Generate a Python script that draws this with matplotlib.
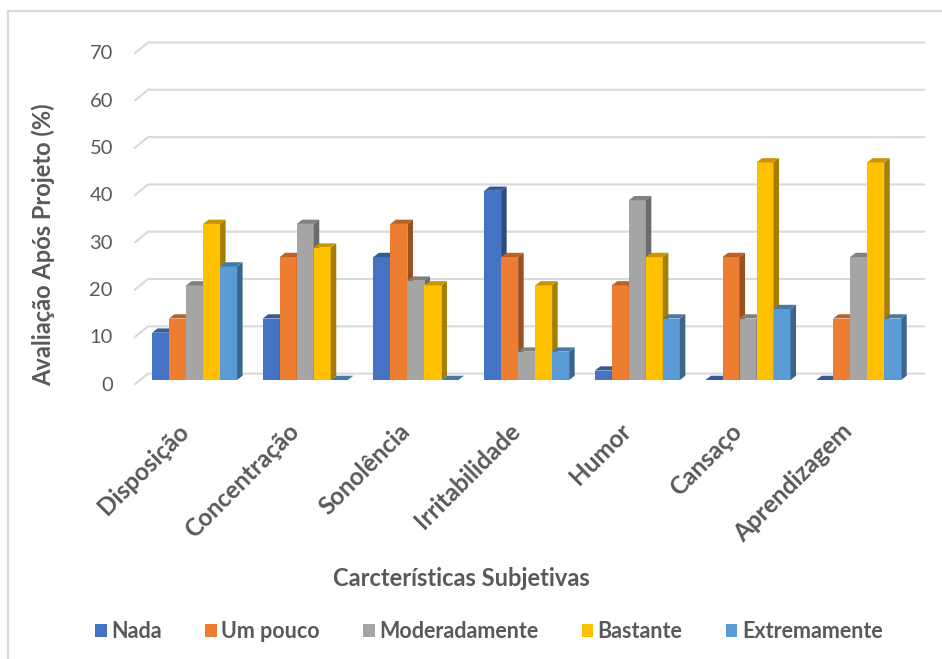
# Avaliação após o projeto - barras agrupadas com efeito 3D
import numpy as np
import matplotlib.pyplot as plt
from matplotlib.patches import Polygon, Patch
from matplotlib.colors import to_rgb

plt.rcParams['font.family'] = ['Lato', 'DejaVu Sans']

# dados
categorias = ['Disposição', 'Concentração', 'Sonolência', 'Irritabilidade',
              'Humor', 'Cansaço', 'Aprendizagem']
series = ['Nada', 'Um pouco', 'Moderadamente', 'Bastante', 'Extremamente']
nada = [10, 13, 26, 40, 2, 0, 0]
um_pouco = [13, 26, 33, 26, 20, 26, 13]
moderadamente = [20, 33, 21, 6, 38, 13, 26]
bastante = [33, 28, 20, 20, 26, 46, 46]
extremamente = [24, 0, 0, 6, 13, 15, 13]
y_ticks = [0, 10, 20, 30, 40, 50, 60, 70]

valores = [nada, um_pouco, moderadamente, bastante, extremamente]
cores = ['#4472C4', '#ED7D31', '#A5A5A5', '#FFC000', '#5B9BD5']
cinza = '#595959'


def escurecer(c, f):
    r, g, b = to_rgb(c)
    return (r * f, g * f, b * f)


fig = plt.figure(figsize=(9.42, 6.59), dpi=100)
ax = fig.add_axes([134 / 942, 264 / 659, (925 - 134) / 942, (395 - 30) / 659])
ax.set_xlim(-0.547, 6.599)
ax.set_ylim(-3.17, 74.0)
ax.axis('off')

# profundidade do efeito 3D (unidades de dados)
dx, dy = 0.05, 0.9
larg = 0.1536
x = np.arange(len(categorias))

# grade no fundo com o canto inclinado à esquerda
for v in y_ticks:
    ax.plot([-0.547, -0.42, 6.599], [v - 1.06, v + 1.35, v + 1.35],
            color='#D9D9D9', lw=1.5, zorder=0, solid_capstyle='butt')
    ax.text(-0.547 - 0.19, v - 1.06, str(v), ha='right', va='center',
            fontsize=14.5, color=cinza)

for j, (vals, cor) in enumerate(zip(valores, cores)):
    for i, v in enumerate(vals):
        x0 = x[i] - 2.5 * larg + j * larg
        z = 2 + j
        ax.bar(x0, v, larg, align='edge', color=cor, zorder=z, lw=0)
        lado = [(x0 + larg, 0), (x0 + larg + dx, dy),
                (x0 + larg + dx, v + dy), (x0 + larg, v)]
        topo = [(x0, v), (x0 + dx, v + dy), (x0 + larg + dx, v + dy),
                (x0 + larg, v)]
        ax.add_patch(Polygon(lado, closed=True, color=escurecer(cor, 0.65),
                             lw=0, zorder=z))
        ax.add_patch(Polygon(topo, closed=True, color=escurecer(cor, 0.78),
                             lw=0, zorder=z))

# rótulos das categorias
for i, nome in enumerate(categorias):
    ax.text(x[i] - 0.09, -10.0, nome, rotation=45, rotation_mode='anchor',
            ha='right', va='center', fontsize=17.5, fontweight='bold',
            color=cinza, clip_on=False)

fig.text(43 / 942, 1 - 245 / 659, 'Avaliação Após Projeto (%)', rotation=90,
         ha='center', va='center', fontsize=17, fontweight='bold', color=cinza)
fig.text(461 / 942, 1 - 578 / 659, 'Carcterísticas Subjetivas',
         ha='center', va='center', fontsize=17, fontweight='bold', color=cinza)

handles = [Patch(facecolor=c, edgecolor='none') for c in cores]
leg = fig.legend(handles, series, loc='center', ncol=5, frameon=False,
                 bbox_to_anchor=(489 / 942, 1 - 632 / 659),
                 handlelength=0.55, handleheight=0.55, handletextpad=0.2,
                 columnspacing=2.0, prop={'size': 15.5, 'weight': 'bold'})
for t in leg.get_texts():
    t.set_color(cinza)

# moldura (lado esquerdo e topo)
fig.add_artist(plt.Line2D([8 / 942, 8 / 942], [0, 1 - 11 / 659],
                          color='#D9D9D9', lw=1.5))
fig.add_artist(plt.Line2D([8 / 942, 1], [1 - 11 / 659, 1 - 11 / 659],
                          color='#D9D9D9', lw=1.5))

fig.savefig('out.png', dpi=100)
